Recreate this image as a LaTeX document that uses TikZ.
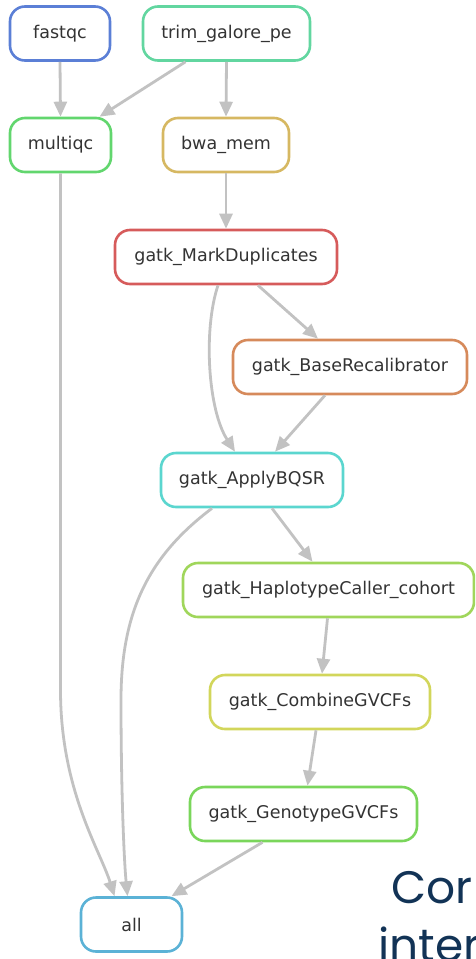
\documentclass[tikz,border=0pt]{standalone}
\usepackage{fontspec}
\setmainfont{DejaVu Sans}
\newfontfamily\popfont{Poppins}
\usetikzlibrary{arrows.meta}
\definecolor{edgegray}{HTML}{C2C2C2}
\definecolor{txtgray}{HTML}{333333}
\definecolor{navy}{HTML}{123356}
\definecolor{cfastqc}{HTML}{5B7FD6}
\definecolor{ctrim}{HTML}{62D6A0}
\definecolor{cmultiqc}{HTML}{62D66E}
\definecolor{cbwa}{HTML}{D6B862}
\definecolor{cmd}{HTML}{D65B5B}
\definecolor{cbase}{HTML}{D68A5B}
\definecolor{capply}{HTML}{5BD6CF}
\definecolor{chaplo}{HTML}{A0D65B}
\definecolor{ccombine}{HTML}{D2D65B}
\definecolor{cgeno}{HTML}{7AD65B}
\definecolor{call}{HTML}{5BB2D6}
\tikzset{
  job/.style={draw=#1, rectangle, rounded corners=15pt, line width=2.6pt,
    minimum height=54pt, inner sep=0pt, fill=white, text=txtgray,
    font=\fontsize{17.5}{20}\selectfont},
  dep/.style={draw=edgegray, line width=2.8pt,
    -{Triangle[length=15pt,width=13pt]}},
  bigtxt/.style={anchor=base west, text=navy, inner sep=0pt,
    font=\popfont\fontsize{45.5}{52}\selectfont},
}
\begin{document}
\begin{tikzpicture}[x=1pt,y=-1pt]
\path[use as bounding box] (0,0) rectangle (475,959);
\clip (0,0) rectangle (475,959);
\node[job=cfastqc, minimum width=100pt] (fastqc) at (60,33.5) {fastqc};
\node[job=ctrim, minimum width=167pt] (trim) at (226.5,33.5) {trim\_galore\_pe};
\node[job=cmultiqc, minimum width=101pt] (multiqc) at (60.5,145) {multiqc};
\node[job=cbwa, minimum width=126pt] (bwa) at (226,145) {bwa\_mem};
\node[job=cmd, minimum width=222pt] (md) at (226,257) {gatk\_MarkDuplicates};
\node[job=cbase, minimum width=234pt] (base) at (350,367) {gatk\_BaseRecalibrator};
\node[job=capply, minimum width=182pt] (apply) at (252,480) {gatk\_ApplyBQSR};
\node[job=chaplo, minimum width=291pt] (haplo) at (328.5,590) {gatk\_HaplotypeCaller\_cohort};
\node[job=ccombine, minimum width=220pt] (combine) at (320,702) {gatk\_CombineGVCFs};
\node[job=cgeno, minimum width=227pt] (geno) at (303.5,814) {gatk\_GenotypeGVCFs};
\node[job=call, minimum width=101pt] (all) at (131.5,924.5) {all};

\draw[dep] (fastqc.south) -- (multiqc.north);
\draw[dep] ([xshift=-41pt]trim.south) -- ([xshift=39pt]multiqc.north);
\draw[dep] (trim.south) -- (bwa.north);
\draw[dep] (bwa.south) -- (md.north);
\draw[dep] ([xshift=32pt]md.south) -- ([xshift=-32pt]base.north);
\draw[dep] ([xshift=-8pt]md.south) .. controls (203,330) and (208,410) .. ([xshift=-17pt]apply.north);
\draw[dep] ([xshift=-25pt]base.south) -- ([xshift=23pt]apply.north);
\draw[dep] ([xshift=20pt]apply.south) -- ([xshift=-16pt]haplo.north);
\draw[dep] ([xshift=-1pt]haplo.south) -- ([xshift=2pt]combine.north);
\draw[dep] ([xshift=-4pt]combine.south) -- ([xshift=4pt]geno.north);
\draw[dep] ([xshift=-41pt]geno.south) -- ([xshift=40pt]all.north);
\draw[dep] (multiqc.south) -- (60.5,690) .. controls (60.5,790) and (100,850) .. ([xshift=-17pt]all.north);
\draw[dep] ([xshift=-40pt]apply.south) .. controls (150,555) and (121,610) .. (121,700)
  .. controls (121,790) and (124,860) .. ([xshift=-4pt]all.north);

\node[bigtxt] (t1) at (391,903) {Cor};
\node[bigtxt] (t2) at (378,961) {inter};
\end{tikzpicture}
\end{document}
